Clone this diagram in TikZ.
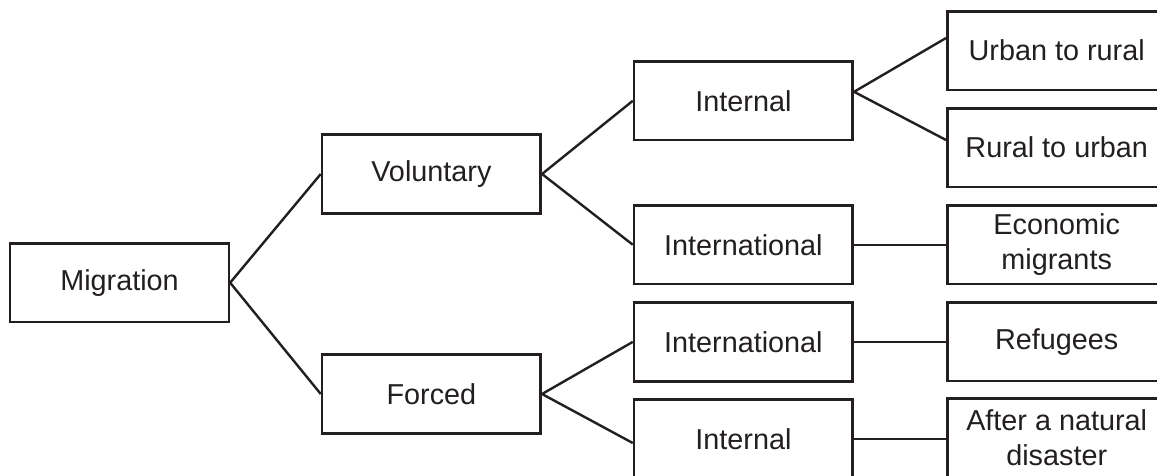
\documentclass[tikz,border=0pt]{standalone}
\usepackage{fontspec}
\setmainfont{Liberation Sans}
\definecolor{ink}{HTML}{231F20}
\begin{document}
\begin{tikzpicture}[x=1pt,y=-1pt,
  box/.style={draw=ink, line width=2.6pt, minimum width=218.7pt, minimum height=78.6pt,
    inner sep=0pt, align=center, text=ink, font=\fontsize{28.8}{35}\selectfont},
  link/.style={draw=ink, line width=2.4pt}]
\useasboundingbox (0,0) rectangle (1157,475);
\clip (0,0) rectangle (1157,475);
\fill[white] (0,0) rectangle (1157,475);
\node[box] (mig) at (119.5,282.7) {Migration};
\node[box] (vol) at (431.4,174) {Voluntary};
\node[box] (for) at (431.4,394) {Forced};
\node[box] (int1) at (743.4,100.8) {Internal};
\node[box] (intl1) at (743.4,244.7) {International};
\node[box] (intl2) at (743.4,341.9) {International};
\node[box] (int2) at (743.4,439) {Internal};
\node[box] (urb) at (1056.7,50.5) {Urban to rural};
\node[box] (rur) at (1056.7,147.5) {Rural to urban};
\node[box] (eco) at (1056.7,244.5) {Economic\\migrants};
\node[box] (ref) at (1056.7,341.7) {Refugees};
\node[box] (aft) at (1056.7,438) {After a natural\\disaster};
\coordinate (v1) at ([yshift=9pt]int1.east);
\draw[link] (vol.west) -- (mig.east) -- (for.west);
\draw[link] (int1.west) -- (vol.east) -- (intl1.west);
\draw[link] (intl2.west) -- (for.east) -- ([yshift=-4pt]int2.west);
\draw[link] ([yshift=12.5pt]urb.west) -- (v1) -- ([yshift=7.5pt]rur.west);
\draw[link] (intl1.east) -- (intl1.east -| eco.west);
\draw[link] (intl2.east) -- (intl2.east -| ref.west);
\draw[link] (int2.east) -- (int2.east -| aft.west);
\end{tikzpicture}
\end{document}
